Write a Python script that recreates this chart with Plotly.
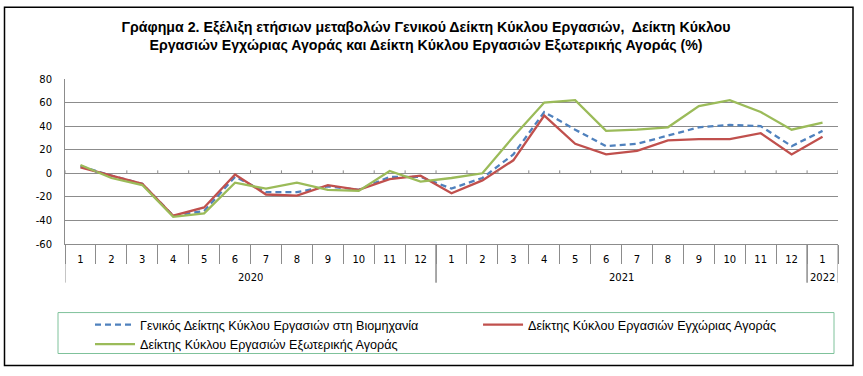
import plotly.graph_objects as go

years = ["2020"] * 12 + ["2021"] * 12 + ["2022"]
months = [str(m) for m in range(1, 13)] * 2 + ["1"]

ytick_vals = [-60, -40, -20, 0, 20, 40, 60, 80]
ytick_text = ["-60", "-40", "-20", "0", "20", "40", "60", "80"]

general = [6, -2, -9, -36, -32, -3, -16, -16, -11, -14, -3, -3,
           -13, -4, 16, 52, 37, 23, 25, 32, 39, 41, 40, 23, 36]
domestic = [5, -2, -9, -36, -29, -1, -18, -19, -10, -14, -5, -2,
            -17, -6, 11, 49, 25, 16, 19, 28, 29, 29, 34, 16, 31]
external = [7, -4, -10, -37, -34, -8, -13, -8, -14, -15, 2, -7,
            -4, 0, 31, 60, 62, 36, 37, 39, 57, 62, 52, 37, 43]

names = ["Γενικός Δείκτης Κύκλου Εργασιών στη Βιομηχανία",
         "Δείκτης Κύκλου Εργασιών Εγχώριας Αγοράς",
         "Δείκτης Κύκλου Εργασιών Εξωτερικής Αγοράς"]

title_text = ("Γράφημα 2. Εξέλιξη ετήσιων μεταβολών Γενικού Δείκτη Κύκλου Εργασιών,  Δείκτη Κύκλου<br>"
              "Εργασιών Εγχώριας Αγοράς και Δείκτη Κύκλου Εργασιών Εξωτερικής Αγοράς (%)")

n = len(months)
xi = list(range(n))

fig = go.Figure()
fig.add_trace(go.Scatter(x=xi, y=general, name=names[0], mode="lines",
                         line=dict(color="#4F81BD", width=2.3, dash="6px,4px")))
fig.add_trace(go.Scatter(x=xi, y=domestic, name=names[1], mode="lines",
                         line=dict(color="#C0504D", width=2.3)))
fig.add_trace(go.Scatter(x=xi, y=external, name=names[2], mode="lines",
                         line=dict(color="#9BBB59", width=2.3)))

L, R, T, B = 65, 838, 79, 244.3
W, H = 863, 376
pw, ph = R - L, B - T
GRAY = "#8C8C8C"

def px2x(p):
    return (p - L) / pw

def py2y(p):
    return (B - p) / ph

shapes = []
annotations = []
# small tick marks on zero line at category boundaries
for i in range(n + 1):
    shapes.append(dict(type="line", xref="x", yref="y", x0=i - 0.5, x1=i - 0.5,
                       y0=0, y1=2.5, line=dict(color=GRAY, width=1)))

# year groups: dividers and labels
groups = []
start = 0
for i in range(1, n + 1):
    if i == n or years[i] != years[start]:
        groups.append((years[start], start, i - 1))
        start = i
for yr, a, b in groups:
    annotations.append(dict(x=(a + b) / 2, xref="x", y=py2y(278), yref="paper",
                            text=yr, showarrow=False, yanchor="middle",
                            font=dict(family="DejaVu Sans", size=10, color="#000000")))
    for edge in (a - 0.5, b + 0.5):
        shapes.append(dict(type="line", xref="x", yref="paper", x0=edge, x1=edge,
                           y0=py2y(244.3), y1=py2y(283), line=dict(color=GRAY, width=1)))

# legend box
shapes.append(dict(type="rect", xref="paper", yref="paper",
                   x0=px2x(58), x1=px2x(834), y0=py2y(354), y1=py2y(313),
                   line=dict(color="#7FC29B", width=1)))
# outer border
shapes.append(dict(type="rect", xref="paper", yref="paper",
                   x0=px2x(4.5), x1=px2x(853), y0=py2y(366), y1=py2y(7),
                   line=dict(color="#000000", width=1.5)))

fig.update_layout(
    width=W, height=H,
    margin=dict(l=L, r=W - R, t=T, b=H - B),
    plot_bgcolor="white", paper_bgcolor="white",
    title=dict(text=title_text, x=426 / W, xanchor="center", xref="container",
               y=1 - 32 / H, yanchor="middle", yref="container",
               font=dict(family="Liberation Sans Narrow, Arial", size=14.2, color="#000000",
                         weight="bold")),
    showlegend=True,
    legend=dict(orientation="h", xref="container", yref="container",
                x=90 / W, xanchor="left", y=1 - 310 / H, yanchor="top",
                entrywidthmode="fraction", entrywidth=0.502, itemwidth=40,
                tracegroupgap=0,
                font=dict(family="Liberation Sans Narrow, Arial", size=12.6, color="#000000"),
                bgcolor="rgba(0,0,0,0)"),
    shapes=shapes,
    annotations=annotations,
)

fig.update_yaxes(range=[-60, 80], tickmode="array", tickvals=ytick_vals, ticktext=ytick_text,
                 showgrid=True, gridcolor=GRAY, gridwidth=1,
                 zeroline=True, zerolinecolor=GRAY, zerolinewidth=1,
                 showline=True, linecolor=GRAY, linewidth=1,
                 ticks="", ticklabelstandoff=10,
                 tickfont=dict(family="DejaVu Sans", size=10, color="#000000"))
fig.update_xaxes(range=[-0.5, n - 0.5], showgrid=False, zeroline=False,
                 showline=True, linecolor=GRAY, linewidth=1,
                 tickmode="array", tickvals=xi, ticktext=months, ticks="",
                 ticklabelstandoff=6,
                 minor=dict(tick0=-0.5, dtick=1, ticks="outside", ticklen=19,
                            tickcolor=GRAY, showgrid=False),
                 tickfont=dict(family="DejaVu Sans", size=10, color="#000000"))

fig.write_html("out.html", post_script="document.body.style.margin='0';",
               config={"displayModeBar": False})
